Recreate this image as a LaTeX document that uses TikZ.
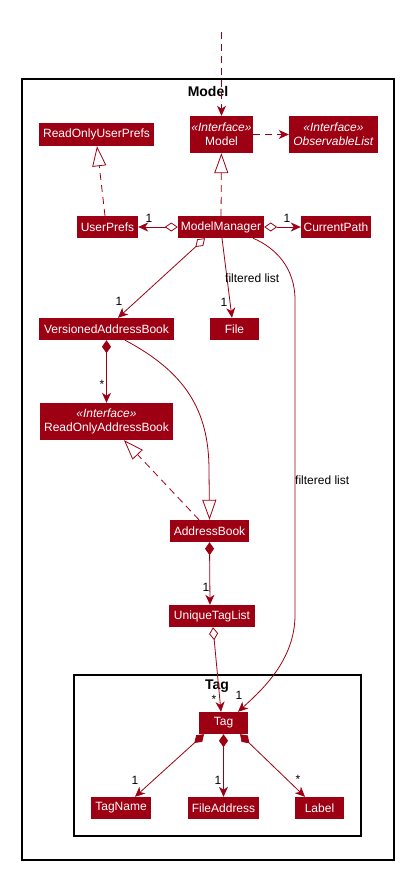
\documentclass[tikz,border=0pt]{standalone}
\usepackage{fontspec}
\setmainfont{Liberation Sans}
\usepackage{tikz}
\usetikzlibrary{arrows.meta}
\definecolor{modelred}{HTML}{9D0012}
\tikzset{
  cls/.style = {fill=modelred, text=white, align=center, inner sep=0pt, font=\fontsize{12}{14}\selectfont},
  pkg/.style = {draw=black, line width=1.1pt},
  ptitle/.style = {font=\bfseries\fontsize{14}{16}\selectfont},
  lbl/.style = {inner sep=0pt, font=\fontsize{12}{14}\selectfont},
  link/.style = {draw=modelred, line width=0.8pt},
  dep/.style = {link, dash pattern=on 7pt off 5pt},
  pu/.tip = {Stealth[length=10pt, width=9pt, inset=3pt]},
  hol/.tip = {Triangle[open, length=20pt, width=14pt, fill=white]},
  odia/.tip = {Diamond[open, length=13pt, width=9pt, fill=white]},
  fdia/.tip = {Diamond[length=13pt, width=9pt]},
}

\begin{document}
\begin{tikzpicture}[x=1pt, y=-1pt]
\useasboundingbox (0,0) rectangle (404,870);
% packages
\draw[pkg] (22,79) rectangle (394,860);
\node[ptitle] (modeltitle) at (208,91) {Model};
\draw[pkg] (74,675) rectangle (361,836);
\node[ptitle] (tagtitle) at (217,686) {Tag};

% classes
\node[cls, minimum width=63pt, minimum height=37pt] (model) at (221.5,134.5) {\textit{«Interface»}\\Model};
\node[cls, minimum width=89pt, minimum height=37pt] (obs) at (333.5,134.5) {\textit{«Interface»}\\\textit{ObservableList}};
\node[cls, minimum width=115pt, minimum height=23pt] (roup) at (96.5,134.5) {ReadOnlyUserPrefs};
\node[cls, minimum width=61pt, minimum height=22pt] (uprefs) at (107.5,227) {UserPrefs};
\node[cls, minimum width=86pt, minimum height=22pt] (mm) at (221,227) {ModelManager};
\node[cls, minimum width=70pt, minimum height=22pt] (cpath) at (336,227) {CurrentPath};
\node[cls, minimum width=135pt, minimum height=22pt] (vab) at (106.5,329) {VersionedAddressBook};
\node[cls, minimum width=49pt, minimum height=22pt] (file) at (234.5,329) {File};
\node[cls, minimum width=133pt, minimum height=37pt] (roab) at (106.5,421.5) {\textit{«Interface»}\\ReadOnlyAddressBook};
\node[cls, minimum width=79pt, minimum height=22pt] (ab) at (209.5,531) {AddressBook};
\node[cls, minimum width=86pt, minimum height=22pt] (utl) at (212,616) {UniqueTagList};
\node[cls, minimum width=49pt, minimum height=22pt] (tag) at (223.5,723) {Tag};
\node[cls, minimum width=60pt, minimum height=22pt] (tname) at (121,808) {TagName};
\node[cls, minimum width=71pt, minimum height=22pt] (faddr) at (223.5,808) {FileAddress};
\node[cls, minimum width=49pt, minimum height=22pt] (label) at (319.5,808) {Label};

% connectors
\coordinate (entry) at (221.5,32);
\draw[dep, -pu] (entry) -- (model);
\draw[dep, -pu] (model) -- (obs);
\draw[dep, -hol] (mm) -- (model);
\draw[dep, -hol] ([xshift=-2.5pt]uprefs.north) -- ([xshift=0.5pt]roup.south);
\draw[link, odia-pu] (mm) -- (uprefs);
\draw[link, odia-pu] (mm) -- (cpath);
\draw[link, odia-pu] ([xshift=-16pt]mm.south) -- ([xshift=11.5pt]vab.north);
\draw[link, -pu] ([xshift=1pt]mm.south) -- ([xshift=-2.5pt]file.north);
\draw[link, -pu] ([xshift=32pt]mm.south) .. controls (276,248) and (295,268) .. (295,300)
  -- (295,615) .. controls (295,660) and (262,690) .. ([xshift=14.5pt]tag.north);
\draw[link, fdia-pu] (vab) -- (roab);
\draw[link, -hol] ([xshift=18.5pt]vab.south) .. controls (185,372) and (209,410) .. (209,470) -- (ab.north);
\draw[dep, -hol] ([xshift=-10.5pt]ab.north) -- ([xshift=17.5pt]roab.south);
\draw[link, fdia-pu] (ab.south) -- ([xshift=-2pt]utl.north);
\draw[link, odia-pu] ([xshift=1pt]utl.south) -- ([xshift=-2.5pt]tag.north);
\draw[link, fdia-pu] ([xshift=-19.5pt]tag.south) -- ([xshift=14pt]tname.north);
\draw[link, fdia-pu] (tag.south) -- (faddr.north);
\draw[link, fdia-pu] ([xshift=16.5pt]tag.south) -- ([xshift=-14.5pt]label.north);

% multiplicities and roles
\node[lbl] (m1) at (149,218) {1};
\node[lbl] (m2) at (287,218) {1};
\node[lbl] (m3) at (119,301) {1};
\node[lbl] (m4) at (224,302) {1};
\node[lbl, anchor=west] (f1) at (225,278) {filtered list};
\node[lbl, anchor=west] (f2) at (295,480) {filtered list};
\node[lbl] (m5) at (102,384) {*};
\node[lbl] (m6) at (206,587) {1};
\node[lbl] (m7) at (214,699) {*};
\node[lbl] (m8) at (239,695) {1};
\node[lbl] (m9) at (135,780) {1};
\node[lbl] (m10) at (218,780) {1};
\node[lbl] (m11) at (298,779) {*};
\end{tikzpicture}
\end{document}
